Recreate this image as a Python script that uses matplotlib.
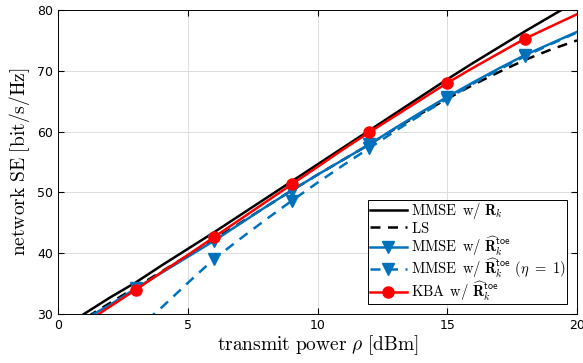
import numpy as np
import matplotlib
matplotlib.use("Agg")
import matplotlib.pyplot as plt

# transmit power [dBm]
rho = np.arange(0, 21)

# network SE [bit/s/Hz]
se_mmse_true = [27.2, 30.0, 32.7, 35.2, 38.0, 40.7, 43.4, 46.2, 49.0, 51.8, 54.6,
                57.4, 60.2, 63.0, 65.8, 68.6, 71.3, 73.9, 76.5, 79.0, 81.5]
se_ls = [26.5, 29.2, 31.8, 34.4, 37.0, 39.6, 42.2, 44.9, 47.6, 50.3, 52.9,
         55.4, 57.9, 60.5, 63.0, 65.4, 67.7, 69.8, 71.8, 73.5, 75.0]
se_mmse_toe = [26.3, 29.1, 31.5, 34.2, 36.8, 39.4, 42.0, 44.8, 47.6, 50.3, 52.9,
               55.4, 57.9, 60.6, 63.2, 65.7, 68.1, 70.4, 72.6, 74.5, 76.4]
se_mmse_toe_eta1 = [17.0, 20.5, 24.1, 27.4, 31.1, 35.1, 39.0, 42.3, 45.5, 48.6, 51.6,
                    54.5, 57.3, 60.1, 62.8, 65.4, 67.9, 70.2, 72.4, 74.4, 76.3]
se_kba = [25.7, 28.4, 31.2, 34.0, 36.9, 39.7, 42.6, 45.5, 48.4, 51.3, 54.2,
          57.1, 59.9, 62.6, 65.3, 68.0, 70.5, 72.9, 75.3, 77.3, 79.3]

plt.rcParams['mathtext.fontset'] = 'cm'
plt.rcParams['font.family'] = 'DejaVu Sans'

blue = '#0072BD'
mk = slice(3, None, 3)
toe = r'\widehat{\mathbf{R}}_k^{\mathsf{toe}}'

fig = plt.figure(figsize=(5.83, 3.63), dpi=100)
ax = fig.add_axes([0.0995, 0.135, 0.8902, 0.8375])

ax.plot(rho, se_mmse_true, color='k', lw=1.8, label=r'$\mathrm{MMSE\ \,w/\ }\mathbf{R}_k$')
ax.plot(rho, se_ls, color='k', lw=1.8, ls=(0, (4, 3)), label=r'$\mathrm{LS}$')
ax.plot(rho, se_mmse_toe, color=blue, lw=1.8, marker='v', ms=9, markevery=mk,
        label=r'$\mathrm{MMSE\ \,w/\ }' + toe + '$')
ax.plot(rho, se_mmse_toe_eta1, color=blue, lw=1.8, ls=(0, (4, 3)), marker='v', ms=9,
        markevery=mk, label=r'$\mathrm{MMSE\ \,w/\ }' + toe + r'\ (\eta\ =\ 1)$')
ax.plot(rho, se_kba, color='#FF0000', lw=1.8, marker='o', ms=8, markevery=mk,
        label=r'$\mathrm{KBA\ \,w/\ }' + toe + '$')

ax.set_xlim(0, 20)
ax.set_ylim(30, 80)
ax.set_xticks([0, 5, 10, 15, 20])
ax.set_yticks([30, 40, 50, 60, 70, 80])
ax.tick_params(direction='in', top=True, right=True, labelsize=9, length=4)
ax.grid(True, color='#dcdcdc', lw=0.7)
ax.set_axisbelow(True)
for s in ax.spines.values():
    s.set_linewidth(0.7)

ax.set_xlabel(r'$\mathrm{transmit\ power\ }\rho\mathrm{\ [dBm]}$', fontsize=14, labelpad=1)
ax.set_ylabel(r'$\mathrm{network\ SE\ [bit/s/Hz]}$', fontsize=14, labelpad=4)

leg = ax.legend(loc='lower right', fontsize=10.5, handlelength=2.6, fancybox=False,
                framealpha=1, edgecolor='k', borderaxespad=0.0, labelspacing=-0.06,
                borderpad=0.08, handletextpad=0.25, bbox_to_anchor=(0.981, 0.033))
leg.get_frame().set_linewidth(0.7)

fig.savefig('out.png', dpi=100)
